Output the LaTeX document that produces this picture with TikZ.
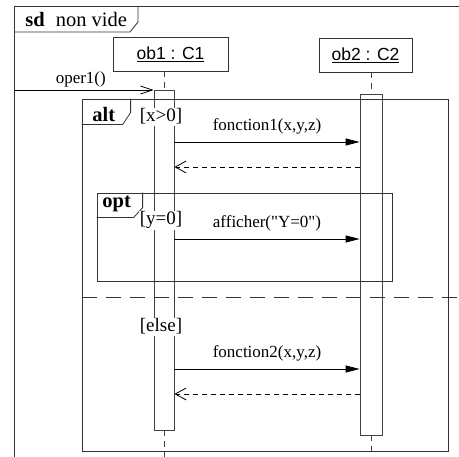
\documentclass[tikz,border=0pt]{standalone}
\usepackage{fontspec}
\setmainfont{Liberation Serif}
\setsansfont{Liberation Sans}
\usetikzlibrary{arrows.meta,positioning,calc}
\newcommand{\sizept}[1]{\fontsize{#1}{#1}\selectfont}

\begin{document}
\begin{tikzpicture}[
    x=1pt, y=-1pt,
    line width=0.8pt,
    objbox/.style={draw=black!80, minimum height=34pt, inner sep=0pt,
                   font=\sffamily\sizept{17.5}},
    act/.style={draw=black!75, fill=white, inner sep=0pt},
    life/.style={draw=black!75, dash pattern=on 6pt off 5pt},
    fragment/.style={draw=black!80, inner sep=0pt},
    tag/.style={anchor=base west, inner sep=0pt, font=\bfseries\sizept{20.5}},
    guard/.style={anchor=base, fill=white, inner sep=1pt, font=\sizept{19}},
    msglabel/.style={anchor=base, inner sep=0pt, yshift=11.5pt,
                     font=\sizept{17}},
    call/.style={-{Triangle[length=14pt, width=7pt]}},
    found/.style={-{Straight Barb[length=12pt, width=8pt]}},
    reply/.style={dash pattern=on 5pt off 4pt,
                  -{Straight Barb[length=11pt, width=12pt]}},
    separator/.style={draw=black!80, dash pattern=on 15pt off 9pt},
  ]
  \useasboundingbox (0,0) rectangle (459,457);

  % ── levels of the messages ──
  \coordinate (oper) at (0,90);
  \coordinate (f1)   at (0,142);
  \coordinate (f1r)  at (0,167);
  \coordinate (aff)  at (0,239);
  \coordinate (sep)  at (0,297);
  \coordinate (f2)   at (0,369);
  \coordinate (f2r)  at (0,394);
  \coordinate (bot)  at (0,462);

  % ── Lifelines: objects + activations ──
  \node[objbox, minimum width=115pt] (ob1) at (170.5,54) {\underline{ob1 : C1}};
  \node[objbox, minimum width=93pt]  (ob2) at (365.5,55) {\underline{ob2 : C2}};

  \node[act, minimum width=20pt, minimum height=340pt] (act1) at (164,260) {};
  \node[act, minimum width=22pt, minimum height=341pt] (act2) at (371,264.5) {};

  \draw[life] (ob1.south -| act1) -- (act1.north);
  \draw[life] (act1.south) -- (act1.south |- bot);
  \draw[life] (ob2.south -| act2) -- (act2.north);
  \draw[life] (act2.south) -- (act2.south |- bot);

  % ── sd frame ──
  \coordinate (sd) at (14,6);
  \draw[fragment] (sd |- bot) -- (sd) -- (465,6);
  \draw[fragment] ([yshift=-26pt]sd) -- ++(116,0) -- ++(8,-10) -- ++(0,-16);
  \node[tag] (sdname) at (25,27) {sd\hspace{11pt}\mdseries non vide};

  % ── alt fragment ──
  \node[fragment, minimum width=366pt, minimum height=352pt] (alt)
    at (265,275) {};
  \draw[fragment] ([yshift=-26pt]alt.north west) -- ++(41,0) -- ++(8,-12)
    -- ++(0,-14);
  \node[tag] (altname) at (92,122) {alt};
  \draw[separator] (alt.west |- sep) -- ++(385,0);

  % ── opt fragment ──
  \node[fragment, minimum width=295pt, minimum height=88pt] (opt)
    at (244.5,237) {};
  \draw[fragment] ([yshift=-25pt]opt.north west) -- ++(37,0) -- ++(9,-10)
    -- ++(0,-15);
  \node[tag] (optname) at (102,208) {opt};

  % ── guards ──
  \node[guard] (gx)    at (161,122) {[x>0]};
  \node[guard] (gy)    at (161,225) {[y=0]};
  \node[guard] (gelse) at (161,332) {[else]};

  % ── Messages ──
  \draw[found] (sd |- oper) -- node[msglabel, yshift=-5pt, xshift=-3pt]
    {oper1()} (act1.west |- oper);

  \draw[call] (act1.east |- f1) -- node[msglabel] {fonction1(x,y,z)}
    (act2.west |- f1);
  \draw[reply] (act2.west |- f1r) -- (act1.east |- f1r);

  \draw[call] (act1.east |- aff) -- node[msglabel]
    {afficher(\textquotedbl Y=0\textquotedbl)} (act2.west |- aff);

  \draw[call] (act1.east |- f2) -- node[msglabel] {fonction2(x,y,z)}
    (act2.west |- f2);
  \draw[reply] (act2.west |- f2r) -- (act1.east |- f2r);

\end{tikzpicture}
\end{document}
